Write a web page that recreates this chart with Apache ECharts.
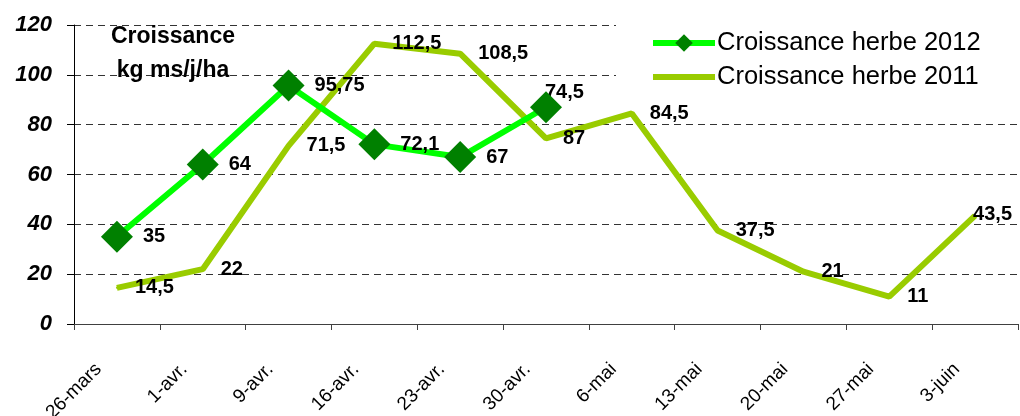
<!DOCTYPE html>
<html>
<head>
<meta charset="utf-8">
<script src="https://cdn.jsdelivr.net/npm/echarts@6/dist/echarts.min.js"></script>
<style>
html,body{margin:0;padding:0;background:#fff;}
#chart{width:1020px;height:416px;}
</style>
</head>
<body>
<div id="chart"></div>
<script>
const categories = ['26-mars','1-avr.','9-avr.','16-avr.','23-avr.','30-avr.','6-mai','13-mai','20-mai','27-mai','3-juin'];
const growth2012 = [35, 64, 95.75, 72.1, 67, 87];
const growth2011 = [14.5, 22, 71.5, 112.5, 108.5, 74.5, 84.5, 37.5, 21, 11, 43.5];
const yTicks = [0, 20, 40, 60, 80, 100, 120];
const seriesNames = ['Croissance herbe 2012', 'Croissance herbe 2011'];

const FONT = "'Liberation Sans', Arial, sans-serif";
const fmt = v => String(v).replace('.', ',');

// label adjustments (manually moved labels in the original)
const offsets2012 = {5: [-9, 31]};
const offsets2011 = {5: [-19, -46], 10: [-20, -1]};

const data2012 = growth2012.map((v, i) => ({
  value: v,
  label: offsets2012[i] ? {offset: offsets2012[i]} : {}
}));
const data2011 = growth2011.map((v, i) => ({
  value: v,
  label: offsets2011[i] ? {offset: offsets2011[i]} : {}
}));

const chart = echarts.init(document.getElementById('chart'), null, {renderer: 'canvas'});
chart.setOption({
  animation: false,
  backgroundColor: '#fff',
  textStyle: {fontFamily: FONT},
  title: {
    text: 'Croissance\nkg ms/j/ha',
    left: 173,
    textAlign: 'center',
    top: 20,
    padding: 0,
    textStyle: {fontFamily: FONT, fontSize: 23, fontWeight: 'bold', color: '#000', lineHeight: 34}
  },
  legend: {
    orient: 'vertical',
    left: 616,
    top: 14,
    padding: [16, 40, 12, 34],
    backgroundColor: '#fff',
    itemWidth: 62,
    itemHeight: 22,
    itemGap: 8,
    textStyle: {fontFamily: FONT, fontSize: 25.5, color: '#000', padding: [0, 0, 0, -3]},
    data: [
      {name: seriesNames[0], lineStyle: {width: 6}},
      {name: seriesNames[1], icon: 'path://M0,0 L62,0 L62,6 L0,6 Z'}
    ]
  },
  grid: {left: 74, right: 2, top: 25, bottom: 92, containLabel: false, outerBoundsMode: 'none'},
  xAxis: {
    type: 'category',
    data: categories,
    boundaryGap: true,
    axisLine: {show: true, lineStyle: {color: '#404040', width: 1}},
    axisTick: {show: true, alignWithLabel: false, length: 6, lineStyle: {color: '#404040'}},
    axisLabel: {rotate: 45, margin: 24, padding: [0, 26, 0, 0], fontFamily: FONT, fontSize: 19, color: '#000', interval: 0}
  },
  yAxis: {
    type: 'value',
    min: yTicks[0],
    max: yTicks[yTicks.length - 1],
    interval: 20,
    axisLine: {show: true, lineStyle: {color: '#000', width: 1}},
    axisTick: {show: true, length: 7, lineStyle: {color: '#000'}},
    axisLabel: {margin: 22, fontFamily: FONT, fontSize: 22, fontWeight: 'bold', fontStyle: 'italic', color: '#000'},
    splitLine: {show: true, lineStyle: {color: '#333', type: [7, 5], width: 1}}
  },
  series: [
    {
      name: seriesNames[0],
      type: 'line',
      data: data2012,
      symbol: 'diamond',
      symbolSize: 32,
      z: 3,
      lineStyle: {color: '#00FF00', width: 6},
      itemStyle: {color: '#008000'},
      label: {
        show: true, position: 'right', distance: 10,
        formatter: p => fmt(p.value),
        fontFamily: FONT, fontSize: 20, fontWeight: 'bold', color: '#000'
      }
    },
    {
      name: seriesNames[1],
      type: 'line',
      data: data2011,
      symbol: 'circle',
      symbolSize: 2,
      z: 2,
      lineStyle: {color: '#99CC00', width: 6},
      itemStyle: {color: '#99CC00'},
      label: {
        show: true, position: 'right', distance: 17,
        formatter: p => fmt(p.value),
        fontFamily: FONT, fontSize: 20, fontWeight: 'bold', color: '#000'
      }
    }
  ]
});
</script>
</body>
</html>
